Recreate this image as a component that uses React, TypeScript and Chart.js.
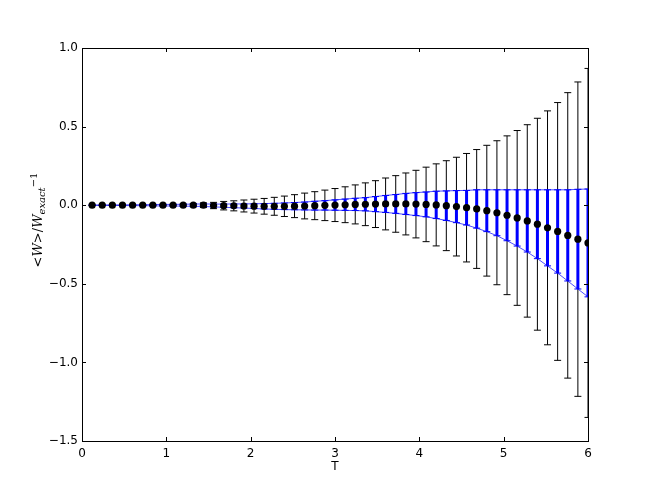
import React, { useEffect, useRef } from "react";
import { Chart, registerables } from "chart.js";

Chart.register(...registerables);

const T = [
  0.12, 0.24, 0.36, 0.48, 0.6, 0.72, 0.84, 0.96, 1.08, 1.2,
  1.32, 1.44, 1.56, 1.68, 1.8, 1.92, 2.04, 2.16, 2.28, 2.4,
  2.52, 2.64, 2.76, 2.88, 3.0, 3.12, 3.24, 3.36, 3.48, 3.6,
  3.72, 3.84, 3.96, 4.08, 4.2, 4.32, 4.44, 4.56, 4.68, 4.8,
  4.92, 5.04, 5.16, 5.28, 5.4, 5.52, 5.64, 5.76, 5.88, 6.0,
];

const meanValues = [
  0, 0, 0, 0, 0, 0, 0, 0, 0, 0,
  0, 0, -0.002, -0.003, -0.004, -0.005, -0.006, -0.007, -0.007, -0.007,
  -0.006, -0.005, -0.003, -0.001, 0.001, 0.003, 0.005, 0.006, 0.007, 0.008,
  0.008, 0.008, 0.007, 0.005, 0.002, -0.003, -0.009, -0.016, -0.024, -0.035,
  -0.048, -0.064, -0.081, -0.1, -0.121, -0.144, -0.167, -0.192, -0.216, -0.24,
];

const bigErrors = [
  0.001, 0.001, 0.001, 0.002, 0.002, 0.002, 0.003, 0.003, 0.004, 0.006,
  0.01, 0.015, 0.02, 0.027, 0.032, 0.038, 0.044, 0.05, 0.057, 0.065,
  0.073, 0.082, 0.089, 0.097, 0.105, 0.114, 0.124, 0.136, 0.149, 0.165,
  0.18, 0.197, 0.215, 0.237, 0.261, 0.286, 0.314, 0.345, 0.378, 0.416,
  0.458, 0.505, 0.556, 0.612, 0.674, 0.744, 0.82, 0.908, 1.0, 1.11,
];

const smallErrors = [
  0.001, 0.001, 0.002, 0.002, 0.003, 0.003, 0.004, 0.005, 0.005, 0.006,
  0.007, 0.008, 0.009, 0.01, 0.012, 0.013, 0.015, 0.017, 0.019, 0.021,
  0.023, 0.025, 0.028, 0.03, 0.033, 0.036, 0.039, 0.042, 0.048, 0.054,
  0.06, 0.067, 0.073, 0.079, 0.087, 0.094, 0.102, 0.11, 0.122, 0.133,
  0.146, 0.162, 0.179, 0.198, 0.219, 0.242, 0.265, 0.29, 0.317, 0.343,
];

const xTicks = [0, 1, 2, 3, 4, 5, 6];
const yTicks = [-1.5, -1.0, -0.5, 0.0, 0.5, 1.0];

const framePlugin = {
  id: "framePlugin",
  beforeDatasetsDraw(chart: any) {
    const { ctx, chartArea: a, scales } = chart;
    const xs = scales.x;
    const ys = scales.y;
    ctx.save();
    ctx.beginPath();
    ctx.rect(a.left, a.top, a.right - a.left, a.bottom - a.top);
    ctx.clip();
    ctx.strokeStyle = "#000000";
    ctx.lineWidth = 1;
    for (let i = 0; i < T.length; i++) {
      const x = xs.getPixelForValue(T[i]);
      const y1 = ys.getPixelForValue(meanValues[i] + bigErrors[i]);
      const y2 = ys.getPixelForValue(meanValues[i] - bigErrors[i]);
      ctx.beginPath();
      ctx.moveTo(x, y1);
      ctx.lineTo(x, y2);
      ctx.moveTo(x - 3.5, y1);
      ctx.lineTo(x + 3.5, y1);
      ctx.moveTo(x - 3.5, y2);
      ctx.lineTo(x + 3.5, y2);
      ctx.stroke();
    }
    ctx.strokeStyle = "#0000ff";
    for (let i = 0; i < T.length; i++) {
      const x = xs.getPixelForValue(T[i]);
      const y1 = ys.getPixelForValue(meanValues[i] + smallErrors[i]);
      const y2 = ys.getPixelForValue(meanValues[i] - smallErrors[i]);
      ctx.lineWidth = 3;
      ctx.beginPath();
      ctx.moveTo(x, y1);
      ctx.lineTo(x, y2);
      ctx.stroke();
      ctx.lineWidth = 1;
      ctx.beginPath();
      ctx.moveTo(x - 3.5, y1);
      ctx.lineTo(x + 3.5, y1);
      ctx.moveTo(x - 3.5, y2);
      ctx.lineTo(x + 3.5, y2);
      ctx.stroke();
    }
    ctx.restore();
  },
  afterDraw(chart: any) {
    const { ctx, chartArea: a, scales } = chart;
    const xs = scales.x;
    const ys = scales.y;
    ctx.save();
    ctx.strokeStyle = "#000000";
    ctx.lineWidth = 1;
    ctx.strokeRect(
      Math.round(a.left) + 0.5,
      Math.round(a.top) + 0.5,
      Math.round(a.right - a.left),
      Math.round(a.bottom - a.top)
    );
    ctx.beginPath();
    for (const t of xTicks) {
      const x = Math.round(xs.getPixelForValue(t)) + 0.5;
      ctx.moveTo(x, a.bottom);
      ctx.lineTo(x, a.bottom - 4);
      ctx.moveTo(x, a.top);
      ctx.lineTo(x, a.top + 4);
    }
    for (const v of yTicks) {
      const y = Math.round(ys.getPixelForValue(v)) + 0.5;
      ctx.moveTo(a.left, y);
      ctx.lineTo(a.left + 4, y);
      ctx.moveTo(a.right, y);
      ctx.lineTo(a.right - 4, y);
    }
    ctx.stroke();

    ctx.fillStyle = "#000000";
    ctx.font = '12px "DejaVu Sans"';
    ctx.textAlign = "center";
    ctx.textBaseline = "middle";
    ctx.fillText("T", (a.left + a.right) / 2, 467);

    ctx.translate(37, 220);
    ctx.rotate(-Math.PI / 2);
    ctx.textAlign = "left";
    ctx.textBaseline = "alphabetic";
    const big = '13px "DejaVu Serif"';
    const bigIt = 'italic 13px "DejaVu Serif"';
    const smallIt = 'italic 10px "DejaVu Serif"';
    const small = '10px "DejaVu Serif"';
    const parts: [string, string, number][] = [
      ["<", big, 0],
      ["W", bigIt, 0],
      [">", big, 0],
      ["/", big, 0],
      ["W", bigIt, 0],
      ["exact", smallIt, 3],
      ["\u22121", small, -5],
    ];
    let total = 0;
    for (const [s, f] of parts) {
      ctx.font = f;
      total += ctx.measureText(s).width;
    }
    let cx = -total / 2;
    for (const [s, f, dy] of parts) {
      ctx.font = f;
      ctx.fillText(s, cx, 5 + dy);
      cx += ctx.measureText(s).width;
    }
    ctx.restore();
  },
};

export default function App() {
  const canvasRef = useRef<HTMLCanvasElement | null>(null);

  useEffect(() => {
    document.body.style.margin = "0";
    const canvas = canvasRef.current;
    if (!canvas) return;
    const points = T.map((t, i) => ({ x: t, y: meanValues[i] }));
    const upper = T.map((t, i) => ({ x: t, y: meanValues[i] + smallErrors[i] }));
    const lower = T.map((t, i) => ({ x: t, y: meanValues[i] - smallErrors[i] }));
    const chart = new Chart(canvas, {
      type: "scatter",
      data: {
        datasets: [
          {
            type: "line",
            data: upper,
            borderColor: "rgba(0,0,255,0.7)",
            borderWidth: 1,
            pointRadius: 0,
            fill: false,
            order: 3,
          } as any,
          {
            type: "line",
            data: lower,
            borderColor: "rgba(0,0,255,0.7)",
            borderWidth: 1,
            pointRadius: 0,
            fill: false,
            order: 2,
          } as any,
          {
            data: points,
            backgroundColor: "#000000",
            borderColor: "#000000",
            borderWidth: 0,
            pointRadius: 3.6,
            order: 1,
          },
        ],
      },
      options: {
        responsive: false,
        animation: false,
        devicePixelRatio: 1,
        layout: { padding: { left: 0, right: 66, top: 48, bottom: 0 } },
        plugins: {
          legend: { display: false },
          tooltip: { enabled: false },
        },
        scales: {
          x: {
            type: "linear",
            min: 0,
            max: 6,
            grid: { display: false, drawTicks: false },
            border: { display: false },
            ticks: {
              stepSize: 1,
              padding: 6,
              color: "#000000",
              font: { family: "DejaVu Sans", size: 12 },
              maxRotation: 0,
              callback: (v: any) => String(v),
            },
            afterFit: (s: any) => {
              s.height = 50;
            },
          },
          y: {
            type: "linear",
            min: -1.5,
            max: 1.0,
            grid: { display: false, drawTicks: false },
            border: { display: false },
            ticks: {
              stepSize: 0.5,
              padding: 4,
              color: "#000000",
              font: { family: "DejaVu Sans", size: 12 },
              callback: (v: any) => {
                const n = Number(v);
                const s = Math.abs(n).toFixed(1);
                return n < 0 ? "\u2212" + s : s;
              },
            },
            afterFit: (s: any) => {
              s.width = 82;
            },
          },
        },
      },
      plugins: [framePlugin],
    });
    return () => chart.destroy();
  }, []);

  return (
    <div style={{ width: 654, height: 491 }}>
      <canvas ref={canvasRef} width={654} height={491} />
    </div>
  );
}
